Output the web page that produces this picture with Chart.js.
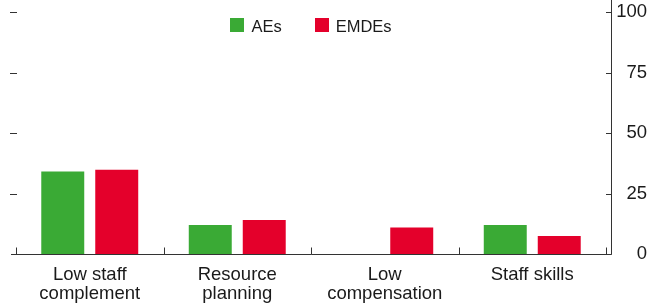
<!DOCTYPE html>
<html>
<head>
<meta charset="utf-8">
<script src="https://cdn.jsdelivr.net/npm/chart.js@4/dist/chart.umd.min.js"></script>
<style>
  html, body { margin: 0; padding: 0; background: #fff; }
  #wrap { width: 658px; height: 308px; }
</style>
</head>
<body>
<div id="wrap"><canvas id="c" width="658" height="308"></canvas></div>
<script>
const categories = [['Low staff', 'complement'], ['Resource', 'planning'], ['Low', 'compensation'], 'Staff skills'];
const aesValues = [34.1, 12.0, 0, 12.0];
const emdesValues = [34.8, 14.1, 10.9, 7.4];
const yTickValues = [0, 25, 50, 75, 100];
const seriesNames = ['AEs', 'EMDEs'];
const seriesColors = ['#3aaa35', '#e4002b'];

const FONT = "'Liberation Sans', Arial, sans-serif";
const AXIS_COLOR = '#333333';
const TEXT_COLOR = '#1a1a1a';

const axesPlugin = {
  id: 'customAxes',
  afterDatasetsDraw(chart) {
    const ctx = chart.ctx;
    const area = chart.chartArea;
    const x = chart.scales.x;
    const y = chart.scales.y;
    const y0 = Math.round(y.getPixelForValue(0)) + 0.5;
    const rightX = Math.round(area.right + 5) + 0.5;
    ctx.save();
    ctx.strokeStyle = AXIS_COLOR;
    ctx.lineWidth = 1;
    ctx.beginPath();
    ctx.moveTo(area.left - 5, y0);
    ctx.lineTo(rightX, y0);
    ctx.moveTo(rightX, 0);
    ctx.lineTo(rightX, y0);
    yTickValues.forEach(v => {
      const py = Math.round(y.getPixelForValue(v)) + 0.5;
      ctx.moveTo(area.right, py);
      ctx.lineTo(rightX, py);
      if (v !== 0) {
        ctx.moveTo(area.left - 6, py);
        ctx.lineTo(area.left + 1, py);
      }
    });
    for (let i = 0; i <= categories.length; i++) {
      const px = Math.round(x.getPixelForValue(i - 0.5)) + 0.5;
      ctx.moveTo(px, y0);
      ctx.lineTo(px, y0 - 7);
    }
    ctx.stroke();
    ctx.restore();
  }
};

const legendPlugin = {
  id: 'customLegend',
  afterDraw(chart) {
    const ctx = chart.ctx;
    const area = chart.chartArea;
    ctx.save();
    ctx.font = "16.5px " + FONT;
    const box = 14, gapText = 7, gapItem = 33;
    const items = chart.data.datasets.map(d => ({ label: d.label, color: d.backgroundColor, w: ctx.measureText(d.label).width }));
    let total = 0;
    items.forEach((it, i) => { total += box + gapText + it.w + (i < items.length - 1 ? gapItem : 0); });
    let cx = (area.left + area.right) / 2 - total / 2;
    const top = 18;
    items.forEach(it => {
      ctx.fillStyle = it.color;
      ctx.fillRect(Math.round(cx), top, box, box);
      ctx.fillStyle = TEXT_COLOR;
      ctx.textBaseline = 'alphabetic';
      ctx.textAlign = 'left';
      ctx.fillText(it.label, cx + box + gapText, top + box);
      cx += box + gapText + it.w + gapItem;
    });
    ctx.restore();
  }
};

new Chart(document.getElementById('c'), {
  type: 'bar',
  data: {
    labels: categories,
    datasets: [
      { label: seriesNames[0], data: aesValues, backgroundColor: seriesColors[0] },
      { label: seriesNames[1], data: emdesValues, backgroundColor: seriesColors[1] }
    ]
  },
  options: {
    responsive: false,
    animation: false,
    devicePixelRatio: 1,
    layout: { padding: { left: 16, top: 12, right: 11, bottom: 0 } },
    datasets: { bar: { categoryPercentage: 0.732, barPercentage: 0.796 } },
    plugins: { legend: { display: false }, tooltip: { enabled: false } },
    scales: {
      x: {
        offset: true,
        grid: { display: false, drawTicks: false },
        border: { display: false },
        ticks: {
          padding: 11,
          color: TEXT_COLOR,
          maxRotation: 0,
          autoSkip: false,
          font: { family: FONT, size: 18.5, lineHeight: 1.027 }
        },
        afterFit(s) { s.height = 54; s.paddingLeft = 0; s.paddingRight = 0; }
      },
      y: {
        position: 'right',
        min: 0,
        max: 100,
        grid: { display: false, drawTicks: false },
        border: { display: false },
        ticks: {
          stepSize: 25,
          padding: 9,
          crossAlign: 'far',
          color: TEXT_COLOR,
          font: { family: FONT, size: 18.5 }
        },
        afterBuildTicks(s) { s.ticks = yTickValues.map(v => ({ value: v })); },
        afterFit(s) { s.width = 41; s.paddingTop = 0; s.paddingBottom = 0; }
      }
    }
  },
  plugins: [axesPlugin, legendPlugin]
});
</script>
</body>
</html>
